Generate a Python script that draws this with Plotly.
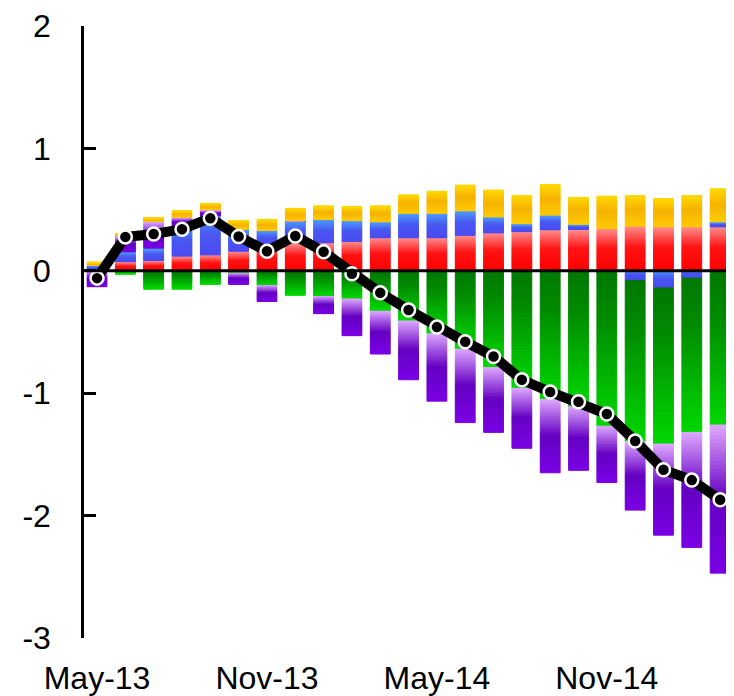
import plotly.graph_objects as go
import numpy as np

months = ["May-13", "Jun-13", "Jul-13", "Aug-13", "Sep-13", "Oct-13", "Nov-13", "Dec-13",
          "Jan-14", "Feb-14", "Mar-14", "Apr-14", "May-14", "Jun-14", "Jul-14", "Aug-14",
          "Sep-14", "Oct-14", "Nov-14", "Dec-14", "Jan-15", "Feb-15", "Mar-15"]

red = [0.015, 0.075, 0.085, 0.12, 0.13, 0.16, 0.21, 0.23, 0.23, 0.24, 0.27, 0.27,
       0.27, 0.29, 0.31, 0.32, 0.335, 0.34, 0.345, 0.365, 0.36, 0.36, 0.36]
blue = [0.03, 0.08, 0.10, 0.25, 0.32, 0.18, 0.12, 0.18, 0.19, 0.17, 0.13, 0.20,
        0.20, 0.20, 0.13, 0.065, 0.12, 0.04, -0.01, -0.08, -0.14, -0.06, 0.04]
green = [0.0, -0.025, -0.15, -0.15, -0.11, -0.02, -0.12, -0.20, -0.21, -0.23, -0.33, -0.41,
         -0.515, -0.64, -0.79, -0.96, -1.05, -1.11, -1.26, -1.315, -1.275, -1.26, -1.26]
purple = [-0.13, 0.135, 0.22, 0.07, 0.05, -0.09, -0.13, 0.0, -0.14, -0.30, -0.35, -0.48,
          -0.55, -0.60, -0.53, -0.49, -0.60, -0.52, -0.46, -0.56, -0.745, -0.94, -1.21]
yellow = [0.025, 0.015, 0.03, 0.05, 0.05, 0.07, 0.09, 0.10, 0.11, 0.115, 0.13, 0.15,
          0.18, 0.21, 0.22, 0.23, 0.25, 0.22, 0.265, 0.25, 0.23, 0.255, 0.27]
total = [-0.06, 0.277, 0.30, 0.34, 0.43, 0.28, 0.16, 0.285, 0.155, -0.025, -0.18, -0.32,
         -0.46, -0.58, -0.70, -0.89, -0.99, -1.07, -1.17, -1.39, -1.625, -1.71, -1.87]

tick_labels = ["May-13", "Nov-13", "May-14", "Nov-14"]
y_ticks = [-3, -2, -1, 0, 1, 2]

# vertical gradients (screen top -> bottom) for each series
gradients = {
    "red": [(0.0, "#ff8c8c"), (0.45, "#ff1414"), (1.0, "#ff0000")],
    "blue": [(0.0, "#4d9cff"), (0.45, "#4a58f0"), (1.0, "#4b4bf2")],
    "green": [(0.0, "#007800"), (0.3, "#008a00"), (1.0, "#00d800")],
    "purple": [(0.0, "#e0aaff"), (0.5, "#6400c2"), (1.0, "#7a00e4")],
    "yellow": [(0.0, "#ffd800"), (0.45, "#f6b200"), (1.0, "#ffcc00")],
}


def hex2rgb(h):
    h = h.lstrip("#")
    return np.array([int(h[i:i + 2], 16) for i in (0, 2, 4)], dtype=float)


def grad_color(stops, t):
    for (t0, c0), (t1, c1) in zip(stops[:-1], stops[1:]):
        if t <= t1:
            f = 0 if t1 == t0 else (t - t0) / (t1 - t0)
            c = hex2rgb(c0) * (1 - f) + hex2rgb(c1) * f
            return "rgb(%d,%d,%d)" % tuple(np.round(c))
    c = hex2rgb(stops[-1][1])
    return "rgb(%d,%d,%d)" % tuple(c)


fig = go.Figure()
N = 40
series = [("red", red), ("blue", blue), ("green", green), ("purple", purple), ("yellow", yellow)]
for name, vals in series:
    vals = np.array(vals, dtype=float)
    stops = gradients[name]
    for k in range(N):
        frac = (k + 0.5) / N  # distance from zero, outward
        cols = []
        for v in vals:
            t = 1 - frac if v >= 0 else frac
            cols.append(grad_color(stops, t))
        fig.add_trace(go.Bar(x=months, y=vals / N,
                             marker=dict(color=cols, line=dict(width=1.0, color=cols)),
                             showlegend=False, hoverinfo="skip"))

fig.add_trace(go.Scatter(x=months, y=total, mode="lines+markers",
                         line=dict(color="black", width=10),
                         marker=dict(size=13, color="black", line=dict(color="white", width=2.5)),
                         showlegend=False))

fig.add_shape(type="line", xref="paper", yref="y", x0=0, x1=1, y0=0, y1=0,
              line=dict(color="black", width=3), layer="above")

font_family = "Liberation Sans, Arial, sans-serif"
fig.update_layout(
    width=726, height=688,
    margin=dict(l=76, r=0, t=17, b=55),
    plot_bgcolor="white", paper_bgcolor="white",
    barmode="relative", bargap=0.3,
    font=dict(family=font_family, size=32, color="black"),
    xaxis=dict(type="category", range=[-0.46, 22.49], tickvals=tick_labels, ticktext=tick_labels,
               showline=False, ticks="", showgrid=False, zeroline=False,
               tickfont=dict(size=32), ticklabelstandoff=18),
    yaxis=dict(range=[-3, 2], tickvals=y_ticks, ticktext=[str(v) for v in y_ticks],
               ticks="inside", ticklen=12, tickwidth=2.5, tickcolor="black",
               showline=True, linewidth=2.5, linecolor="black",
               showgrid=False, zeroline=False, tickfont=dict(size=32),
               ticklabelstandoff=24, ticklabeloverflow="allow"),
)

fig.write_html("out.html")
